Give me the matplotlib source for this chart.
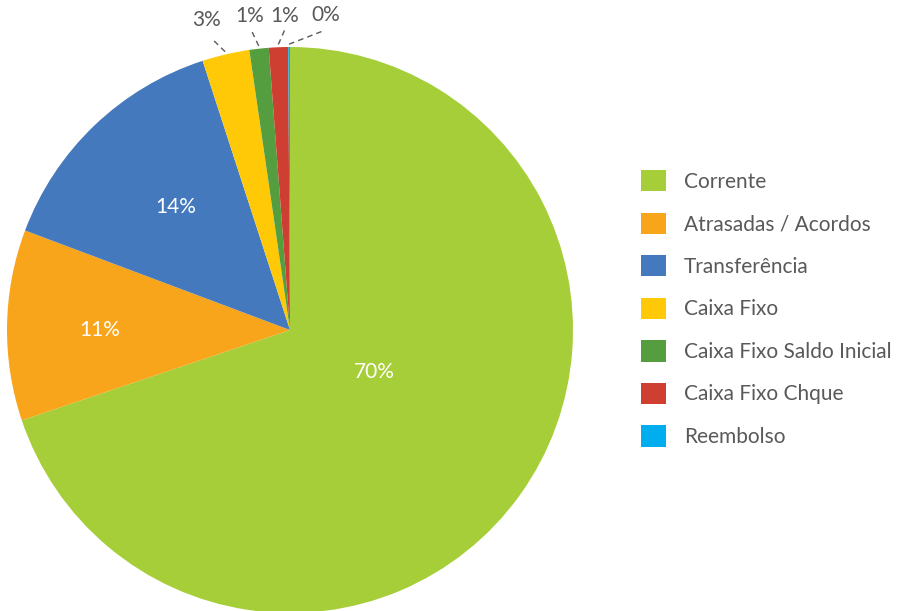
import numpy as np
import matplotlib.pyplot as plt
from matplotlib.patches import Patch

# dados
categorias = ["Corrente", "Atrasadas / Acordos", "Transferência", "Caixa Fixo",
              "Caixa Fixo Saldo Inicial", "Caixa Fixo Chque", "Reembolso"]
valores = [69.9, 10.9, 14.3, 2.7, 1.1, 1.1, 0.1]
rotulos = ["70%", "11%", "14%", "3%", "1%", "1%", "0%"]
cores = ["#A6CE39", "#F9A51B", "#4479BD", "#FFC907", "#559E3F", "#CE3F31", "#00AEEF"]

plt.rcParams['font.family'] = ['Lato', 'DejaVu Sans']
cinza = "#595959"

fig = plt.figure(figsize=(9.01, 6.11), dpi=100)
ax = fig.add_axes([7 / 901, -2 / 611, 566 / 901, 566 / 611])

fatias, _ = ax.pie(valores, colors=cores, startangle=90, counterclock=False,
                   radius=1, wedgeprops=dict(linewidth=0))
ax.set_xlim(-1, 1)
ax.set_ylim(-1, 1)
ax.set_aspect('equal')
ax.axis('off')

# posicao dos rotulos: (angulo, distancia relativa ao raio)
internos = {0: (-26.6, 0.333), 1: (180.0, 0.672), 2: (133.0, 0.594)}
externos = {3: (105.0, 1.135), 4: (97.3, 1.12), 5: (90.9, 1.11), 6: (83.5, 1.12)}

for i, w in enumerate(fatias):
    meio = np.deg2rad((w.theta1 + w.theta2) / 2)
    if i in internos:
        ang, r = internos[i]
        a = np.deg2rad(ang)
        ax.text(r * np.cos(a), r * np.sin(a), rotulos[i], color="white",
                fontsize=15, ha="center", va="center")
    else:
        ang, r = externos[i]
        a = np.deg2rad(ang)
        ax.text(r * np.cos(a), r * np.sin(a), rotulos[i], color=cinza,
                fontsize=15, ha="center", va="center", clip_on=False)
        ax.plot([1.01 * np.cos(meio), 1.065 * np.cos(a)],
                [1.01 * np.sin(meio), 1.065 * np.sin(a)],
                color=cinza, linestyle=(0, (4, 3)), linewidth=1.0, clip_on=False)

alcas = [Patch(facecolor=c, edgecolor="none") for c in cores]
leg = fig.legend(alcas, categorias, loc="upper left",
                 bbox_to_anchor=(641 / 901, 1 - 170 / 611), frameon=False,
                 fontsize=15, handlelength=1.2, handleheight=1.2,
                 handletextpad=0.87, labelspacing=1.0, borderpad=0,
                 borderaxespad=0)
for t in leg.get_texts():
    t.set_color(cinza)

fig.savefig("out.png", dpi=100)
